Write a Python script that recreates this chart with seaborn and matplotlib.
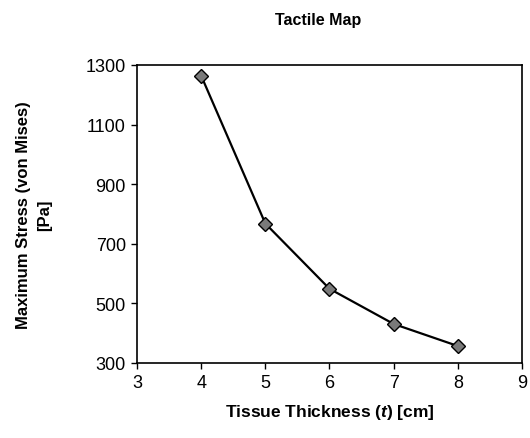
import matplotlib
matplotlib.use("Agg")
import matplotlib.pyplot as plt
import pandas as pd
import seaborn as sns

# Data
thickness_cm = [4, 5, 6, 7, 8]
max_stress_pa = [1264, 768, 549, 431, 357]

x_ticks = [3, 4, 5, 6, 7, 8, 9]
y_ticks = [300, 500, 700, 900, 1100, 1300]

df = pd.DataFrame({"thickness": thickness_cm, "stress": max_stress_pa})

sns.set_theme(style="white")
plt.rcParams["font.family"] = ["Liberation Sans", "DejaVu Sans"]
plt.rcParams["text.color"] = "black"
plt.rcParams["axes.labelcolor"] = "black"
plt.rcParams["mathtext.fontset"] = "custom"
plt.rcParams["mathtext.rm"] = "Liberation Sans"
plt.rcParams["mathtext.it"] = "Liberation Sans:italic"
plt.rcParams["mathtext.bf"] = "Liberation Sans:bold"
plt.rcParams["mathtext.bfit"] = "Liberation Sans:bold:italic"

fig = plt.figure(figsize=(5.30, 4.39), dpi=100)
ax = fig.add_axes([137 / 530, 1 - 364 / 439, (522 - 137) / 530, (364 - 66) / 439])

sns.lineplot(
    data=df, x="thickness", y="stress", ax=ax,
    color="black", linewidth=1.6,
    marker="D", markersize=7, markerfacecolor="#7a7a7a",
    markeredgecolor="black", markeredgewidth=1.0,
)

ax.set_xlim(3, 9)
ax.set_ylim(300, 1300)
ax.set_xticks(x_ticks)
ax.set_yticks(y_ticks)
ax.tick_params(axis="both", which="major", labelsize=13, length=4, width=1,
               direction="out", bottom=True, left=True, top=False, right=False,
               colors="black", labelcolor="black", pad=4)
for spine in ax.spines.values():
    spine.set_color("black")
    spine.set_linewidth(1.2)

ax.set_xlabel(r"Tissue Thickness ($\mathbfit{t}$) [cm]", fontsize=12.5,
              fontweight="bold", labelpad=8, color="black")
ax.set_ylabel("Maximum Stress (von Mises)\n[Pa]", fontsize=12,
              fontweight="bold", labelpad=24, linespacing=1.5, color="black")
fig.text(318 / 530, 1 - 20 / 439, "Tactile Map", ha="center", va="center",
         fontsize=11.5, fontweight="bold", color="black")

fig.savefig("out.png", dpi=100)
